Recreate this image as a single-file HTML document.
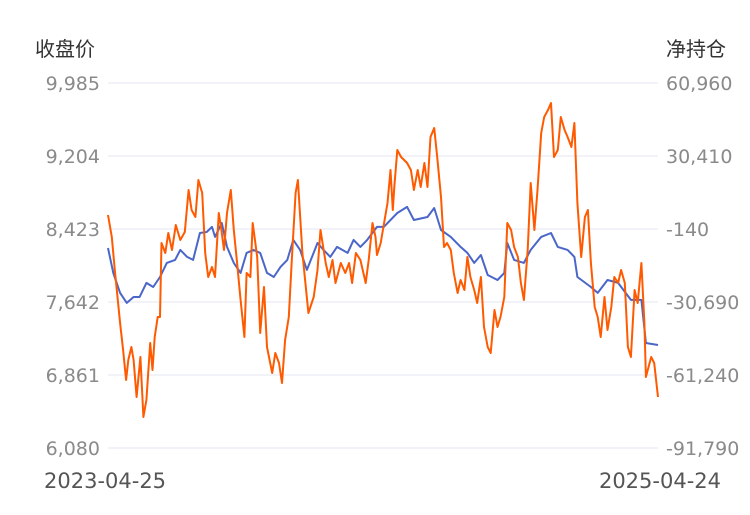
<!DOCTYPE html>
<html><head><meta charset="utf-8">
<style>
html,body{margin:0;padding:0;background:#fff;}
body{width:750px;height:510px;overflow:hidden;font-family:"Liberation Sans","Noto Sans CJK SC",sans-serif;}
svg text{font-family:"DejaVu Sans","Liberation Sans","Noto Sans CJK SC",sans-serif;}
</style></head>
<body>
<svg id="chart" width="750" height="510" viewBox="0 0 750 510" xmlns="http://www.w3.org/2000/svg">
  <g id="grid"></g>
  <g id="leftAxis"></g>
  <g id="rightAxis"></g>
  <text x="35" y="56" font-size="20" fill="#333" style="font-family:'Noto Sans CJK SC',sans-serif">收盘价</text>
  <text x="666" y="56" font-size="20" fill="#333" style="font-family:'Noto Sans CJK SC',sans-serif">净持仓</text>
  <text x="44" y="488" font-size="21" fill="#555">2023-04-25</text>
  <text x="721" y="488" font-size="21" fill="#555" text-anchor="end">2025-04-24</text>
  <g id="series"></g>
</svg>
<script>
const leftTicks = [6080, 6861, 7642, 8423, 9204, 9985];
const leftTickLabels = ["6,080", "6,861", "7,642", "8,423", "9,204", "9,985"];
const rightTicks = [-91790, -61240, -30690, -140, 30410, 60960];
const rightTickLabels = ["-91,790", "-61,240", "-30,690", "-140", "30,410", "60,960"];
const totalDays = 730;
const priceDays = [0,7,16,25,34,42,51,60,69,78,89,96,105,113,122,131,138,142,151,158,167,176,184,193,202,211,220,229,238,246,255,264,278,286,295,304,318,326,335,344,357,366,384,397,406,424,433,442,455,468,477,486,495,504,517,526,530,539,552,561,575,588,597,610,619,623,641,650,663,677,694,708,714,730];
const priceValues = [8220,7952,7739,7632,7696,7696,7846,7803,7910,8060,8092,8199,8124,8092,8380,8391,8445,8338,8487,8231,8060,7953,8167,8199,8167,7953,7910,8017,8092,8306,8199,7985,8273,8199,8124,8231,8167,8306,8231,8306,8445,8445,8594,8659,8519,8551,8648,8412,8338,8231,8167,8060,8145,7931,7877,7953,8273,8092,8060,8199,8338,8380,8231,8199,8124,7910,7803,7739,7877,7846,7664,7664,7203,7182];
const posDays = [0,5,9,16,20,24,27,31,34,38,43,47,51,56,59,62,66,69,71,76,80,85,90,96,102,107,111,116,120,125,129,133,138,142,147,150,154,158,163,167,171,176,181,184,189,192,198,202,207,211,218,222,227,231,235,240,244,249,252,258,262,266,273,278,282,289,293,298,302,309,315,320,324,329,335,342,346,351,355,357,362,371,375,378,380,384,389,393,397,402,406,411,415,420,424,428,433,437,442,446,450,455,459,464,468,473,477,481,486,490,495,499,504,508,513,517,521,526,530,535,539,544,548,552,557,561,566,570,575,579,584,588,592,597,601,606,610,615,619,623,628,633,637,641,646,650,654,659,663,668,672,677,681,686,690,694,699,703,708,712,714,721,725,730];
const posValues = [5720,-3490,-17300,-39480,-50780,-63330,-54960,-49520,-54960,-70450,-53710,-78820,-71700,-47850,-59150,-45340,-36970,-36970,-6000,-10180,-1810,-8930,1540,-4740,-1390,16180,7810,4880,20370,14930,-10180,-20230,-16040,-20230,6560,700,-8930,6560,16180,-560,-13110,-29850,-45340,-18550,-20230,2370,-11860,-43660,-24410,-49520,-60400,-52030,-56220,-64590,-46590,-36970,-13110,14930,20370,-10180,-22740,-35290,-28600,-17300,-560,-14370,-20230,-13110,-22740,-14370,-18550,-14370,-22740,-10180,-13110,-22740,-13110,2370,-3490,-11020,-6000,10740,24550,7810,17440,32920,29990,28740,27480,24550,16180,24550,17440,27480,17440,38360,42130,29990,13250,-7670,-6000,-8930,-18550,-26920,-21480,-25670,-11860,-20230,-25670,-31110,-20230,-41150,-49520,-52030,-34040,-41150,-36970,-28600,2370,-560,-7670,-11860,-22740,-29850,-8930,19110,-560,16180,40040,46730,49660,52590,29990,32920,46730,41290,38360,34180,44220,10740,-11860,4880,7810,-14370,-32780,-36970,-45340,-28600,-42410,-32780,-20230,-22740,-17300,-22740,-49520,-53710,-25670,-31110,-14370,-39480,-62080,-53710,-56220,-70450];

const NS = "http://www.w3.org/2000/svg";
const X0 = 108, X1 = 658, YT = 83, YB = 448;
function xScale(d){ return X0 + d / totalDays * (X1 - X0); }
function yLeft(v){ return YB - (v - leftTicks[0]) / (leftTicks[leftTicks.length-1] - leftTicks[0]) * (YB - YT); }
function yRight(v){ return YB - (v - rightTicks[0]) / (rightTicks[rightTicks.length-1] - rightTicks[0]) * (YB - YT); }
function mk(tag, attrs){ const e = document.createElementNS(NS, tag); for (const k in attrs) e.setAttribute(k, attrs[k]); return e; }

const grid = document.getElementById('grid');
const la = document.getElementById('leftAxis');
const ra = document.getElementById('rightAxis');
leftTicks.forEach((t, i) => {
  const y = yLeft(t);
  const ln = mk('line', {x1: X0, x2: X1, y1: y, y2: y, stroke: '#e3e7f0', 'stroke-width': 1});
  
  
  grid.appendChild(ln);
  const tx = mk('text', {x: 100, y: y + 7, 'font-size': 19, fill: '#8a8a8a', 'text-anchor': 'end'});
  tx.textContent = leftTickLabels[i];
  
  
  la.appendChild(tx);
});
rightTicks.forEach((t, i) => {
  const y = yRight(t);
  const tx = mk('text', {x: 666, y: y + 7, 'font-size': 19, fill: '#8a8a8a'});
  tx.textContent = rightTickLabels[i];
  
  
  ra.appendChild(tx);
});

const sg = document.getElementById('series');
function line(days, vals, yf, color){
  return days.map((d, i) => (i ? 'L' : 'M') + xScale(d).toFixed(1) + ',' + yf(vals[i]).toFixed(1)).join(' ');
}
const posPath = mk('path', {d: line(posDays, posValues, yRight), fill: 'none', stroke: '#ff5a00', 'stroke-width': 2, 'stroke-linejoin': 'round'});


const pricePath = mk('path', {d: line(priceDays, priceValues, yLeft), fill: 'none', stroke: '#4a66c8', 'stroke-width': 2, 'stroke-linejoin': 'round'});


sg.appendChild(pricePath);
sg.appendChild(posPath);
</script>
</body></html>
